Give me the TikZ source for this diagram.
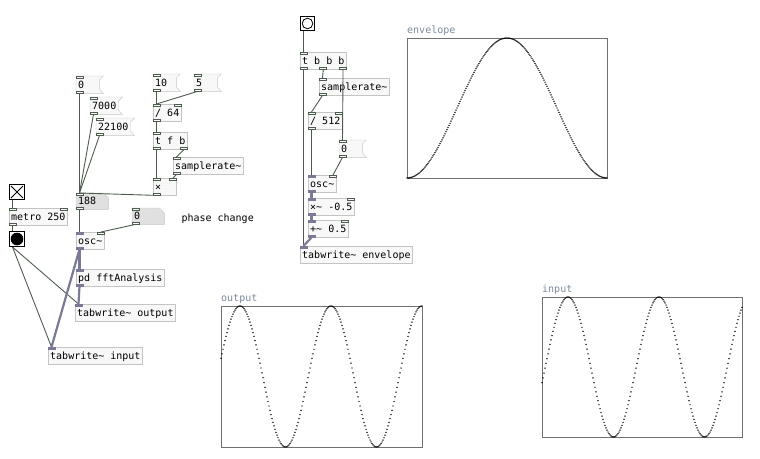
\documentclass[tikz,border=0pt]{standalone}
\usepackage{fontspec}
\newfontfamily\pdmono{DejaVu Sans Mono}
\usetikzlibrary{backgrounds}
\definecolor{boxc}{RGB}{196,196,196}
\definecolor{boxf}{RGB}{248,248,248}
\definecolor{numf}{RGB}{224,224,224}
\definecolor{ctlc}{RGB}{78,92,78}
\definecolor{sigc}{RGB}{122,122,150}
\definecolor{arrc}{RGB}{112,112,112}
\definecolor{labc}{RGB}{122,138,154}
\newcommand{\pdfont}{\pdmono\fontsize{10}{12}\selectfont}
\newcommand{\tld}{\textasciitilde}

\begin{document}
\begin{tikzpicture}[x=1pt,y=-1pt,
  pdbox/.style={anchor=north west, inner xsep=2pt, inner ysep=0pt, minimum height=17pt, text height=9pt, text depth=2pt, font=\pdfont},
  pdobj/.style={pdbox, draw=boxc, fill=boxf, minimum width=22pt},
  pdmsg/.style={pdbox, execute at end node={\hspace*{4pt}}},
  pdnum/.style={pdbox, minimum height=16pt, text width=28pt},
  msgframe/.style={draw=boxc, fill=boxf},
  numframe/.style={draw=boxc, fill=numf},
  gui/.style={anchor=north west, draw=black, line width=1pt, fill=white, minimum size=15pt, inner sep=0pt},
  port/.style={draw=ctlc, fill=boxf, line width=0.6pt},
  sigport/.style={draw=sigc, fill=sigc, line width=0.6pt},
  ctl/.style={draw=ctlc, line width=0.9pt},
  sig/.style={draw=sigc, line width=2.2pt},
  arrbox/.style={anchor=north west, draw=arrc, line width=1pt, inner sep=0pt},
  arrlabel/.style={anchor=south west, inner sep=0pt, yshift=2pt, text=labc, font=\pdfont},
  samplepts/.style={only marks, mark=*, mark size=0.45pt}]
\useasboundingbox (0,0) rectangle (760,458);

% left patch
\node[pdmsg, text width=23pt] (m0) at (76,76) {0};
\node[pdmsg] (m7000) at (90,97) {7000};
\node[pdmsg] (m22100) at (96,118) {22100};
\node[pdmsg, text width=23pt] (m10) at (153,74) {10};
\node[pdmsg, text width=23pt] (m5) at (194,74) {5};
\node[pdobj] (div64) at (153,104) {/ 64};
\node[pdobj] (tfb) at (153,132) {t f b};
\node[pdobj] (srA) at (173,157) {samplerate\tld};
\node[pdobj, minimum width=0pt, text width=19pt] (mul) at (153,178) {×};
\node[pdnum] (n188) at (76,193) {188};
\node[gui] (tgl) at (9,184) {};
\node[pdobj] (metro) at (9,208) {metro 250};
\node[gui] (bngA) at (9,231) {};
\node[pdnum] (n0) at (132,208) {0};
\node[anchor=west, font=\pdfont] (cmt) at (178,219) {phase change};
\node[pdobj] (oscA) at (76,232) {osc\tld};
\node[pdobj] (fft) at (76,269) {pd fftAnalysis};
\node[pdobj] (twOut) at (75,304) {tabwrite\tld{} output};
\node[pdobj] (twIn) at (48,347) {tabwrite\tld{} input};

% envelope patch
\node[gui, minimum size=14pt] (bngB) at (300,16) {};
\node[pdobj] (tbbb) at (300,52) {t b b b};
\node[pdobj] (srB) at (319,78) {samplerate\tld};
\node[pdobj] (div512) at (308,112) {/ 512};
\node[pdmsg, text width=23pt] (m0b) at (339,140) {0};
\node[pdobj] (oscB) at (308,175) {osc\tld};
\node[pdobj] (mulB) at (308,198) {×\tld{} -0.5};
\node[pdobj] (addB) at (308,220) {+\tld{} 0.5};
\node[pdobj] (twEnv) at (300,246) {tabwrite\tld{} envelope};

\begin{scope}[on background layer]
\foreach \m in {m0,m7000,m22100,m10,m5,m0b}
  \draw[msgframe] (\m.north west) -- (\m.north east) -- ++(-4,4) -- ++(0,9) -- (\m.south east) -- (\m.south west) -- cycle;
\foreach \n in {n188,n0}
  \draw[numframe] (\n.north west) -- ([xshift=-5pt]\n.north east) -- ++(5,5) -- (\n.south east) -- (\n.south west) -- cycle;
\end{scope}

% toggle and bangs
\draw[line width=1pt] ([shift={(2,2)}]tgl.north west) -- ([shift={(-2,-2)}]tgl.south east);
\draw[line width=1pt] ([shift={(-2,2)}]tgl.north east) -- ([shift={(2,-2)}]tgl.south west);
\fill (bngA.center) circle (6.3pt);
\draw[line width=0.8pt] (bngB.center) circle (5.3pt);

% connections
\foreach \a/\b in {m0/n188,m7000/n188,m22100/n188,m10/div64,m5/div64,div64/tfb,tfb/mul,mul/n188,n188/oscA,tgl/metro,metro/bngA,bngA/twOut,bngA/twIn,bngB/tbbb,tbbb/twEnv,srB/div512,div512/oscB}
  \draw[ctl] ([xshift=3.5pt]\a.south west) -- ([xshift=3.5pt]\b.north west);
\draw[ctl] ([xshift=-3.5pt]tfb.south east) -- ([xshift=3.5pt]srA.north west);
\draw[ctl] ([xshift=3.5pt]srA.south west) -- ([xshift=-3.5pt]mul.north east);
\draw[ctl] ([xshift=3.5pt]n0.south west) -- ([xshift=-3.5pt]oscA.north east);
\draw[ctl] (tbbb.south) -- ([xshift=3.5pt]srB.north west);
\draw[ctl] ([xshift=-3.5pt]tbbb.south east) -- ([xshift=3.5pt]m0b.north west);
\draw[ctl] ([xshift=3.5pt]m0b.south west) -- ([xshift=-3.5pt]oscB.north east);
\foreach \a/\b in {oscA/fft,oscA/twIn,fft/twOut,oscB/mulB,mulB/addB,addB/twEnv}
  \draw[sig] ([xshift=3.5pt]\a.south west) -- ([xshift=3.5pt]\b.north west);

% inlets and outlets
\foreach \n in {m0,m7000,m22100,m10,m5,m0b,div64,tfb,srA,mul,n188,n0,metro,tbbb,srB,div512} {
  \draw[port] (\n.north west) rectangle ++(7,2.5);
  \draw[port] (\n.south west) rectangle ++(7,-2.5);
}
\foreach \n in {div64,mul,oscA,metro,div512,oscB,mulB,addB}
  \draw[port] (\n.north east) rectangle ++(-7,2.5);
\foreach \n in {tfb,tbbb}
  \draw[port] (\n.south east) rectangle ++(-7,-2.5);
\draw[port] ([xshift=-3.5pt]tbbb.south) rectangle ++(7,-2.5);
\foreach \n in {oscA,fft,oscB,mulB,addB}
  \draw[sigport] (\n.south west) rectangle ++(7,-2.5);
\foreach \n in {oscA,fft,twOut,twIn,oscB,mulB,addB,twEnv}
  \draw[sigport] (\n.north west) rectangle ++(7,2.5);

% arrays
\node[arrbox, minimum width=200pt, minimum height=140pt] (envArr) at (407,38) {};
\node[arrlabel] (envLab) at (envArr.north west) {envelope};
\node[arrbox, minimum width=201pt, minimum height=141pt] (outArr) at (221,306) {};
\node[arrlabel] (outLab) at (outArr.north west) {output};
\node[arrbox, minimum width=200pt, minimum height=140pt] (inArr) at (542,297) {};
\node[arrlabel] (inLab) at (inArr.north west) {input};
\draw[black] plot[samplepts, domain=407:607, samples=201] (\x,{178-70*(1-cos(1.8*(\x-407)))});
\draw[black] plot[samplepts, domain=221:422, samples=202] (\x,{376.5-70.5*cos(3.956*(\x-240))});
\draw[black] plot[samplepts, domain=542:742, samples=201] (\x,{367-70*cos(3.956*(\x-568))});
\end{tikzpicture}
\end{document}
